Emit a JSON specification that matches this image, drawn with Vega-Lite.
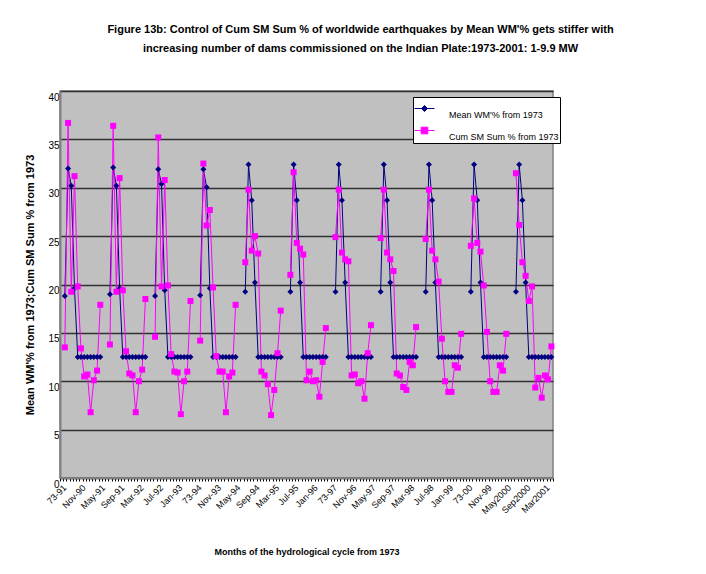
{
  "$schema": "https://vega.github.io/schema/vega-lite/v6.json",
  "width": 493,
  "height": 387,
  "autosize": {"type": "none"},
  "padding": {"left": 60, "top": 91, "right": 153, "bottom": 96},
  "background": "white",
  "title": {
    "text": [
      "Figure 13b: Control of Cum SM Sum % of worldwide earthquakes by Mean WM'% gets stiffer with",
      "increasing number of dams commissioned on the Indian Plate:1973-2001: 1-9.9 MW"
    ],
    "font": "Liberation Sans, sans-serif",
    "fontSize": 11,
    "fontWeight": "bold",
    "color": "black",
    "anchor": "middle",
    "dx": 54,
    "offset": 37,
    "lineHeight": 19
  },
  "data": {
    "values": [
      {"m": "73-91", "wm": null, "sm": null},
      {"m": "Jun-90", "wm": 18.8, "sm": 13.5},
      {"m": "Jul-90", "wm": 32.0, "sm": 36.7},
      {"m": "Aug-90", "wm": 30.2, "sm": 19.25},
      {"m": "Sep-90", "wm": 19.6, "sm": 31.2},
      {"m": "Oct-90", "wm": 12.5, "sm": 19.8},
      {"m": "Nov-90", "wm": 12.5, "sm": 13.4},
      {"m": "Dec-90", "wm": 12.5, "sm": 10.5},
      {"m": "Jan-91", "wm": 12.5, "sm": 10.7},
      {"m": "Feb-91", "wm": 12.5, "sm": 6.8},
      {"m": "Mar-91", "wm": 12.5, "sm": 10.1},
      {"m": "Apr-91", "wm": 12.5, "sm": 11.1},
      {"m": "May-91", "wm": 12.5, "sm": 17.9},
      {"m": "e91", "wm": null, "sm": null},
      {"m": "73-92", "wm": null, "sm": null},
      {"m": "Jun-91", "wm": 19.0, "sm": 13.8},
      {"m": "Jul-91", "wm": 32.1, "sm": 36.4},
      {"m": "Aug-91", "wm": 30.2, "sm": 19.25},
      {"m": "Sep-91", "wm": 19.6, "sm": 31.0},
      {"m": "Oct-91", "wm": 12.5, "sm": 19.4},
      {"m": "Nov-91", "wm": 12.5, "sm": 13.1},
      {"m": "Dec-91", "wm": 12.5, "sm": 10.8},
      {"m": "Jan-92", "wm": 12.5, "sm": 10.6},
      {"m": "Feb-92", "wm": 12.5, "sm": 6.8},
      {"m": "Mar-92", "wm": 12.5, "sm": 10.0},
      {"m": "Apr-92", "wm": 12.5, "sm": 11.2},
      {"m": "May-92", "wm": 12.5, "sm": 18.5},
      {"m": "e92", "wm": null, "sm": null},
      {"m": "73-93", "wm": null, "sm": null},
      {"m": "Jun-92", "wm": 18.8, "sm": 14.6},
      {"m": "Jul-92", "wm": 31.9, "sm": 35.2},
      {"m": "Aug-92", "wm": 30.4, "sm": 19.8},
      {"m": "Sep-92", "wm": 19.4, "sm": 30.8},
      {"m": "Oct-92", "wm": 12.5, "sm": 19.9},
      {"m": "Nov-92", "wm": 12.5, "sm": 12.8},
      {"m": "Dec-92", "wm": 12.5, "sm": 11.0},
      {"m": "Jan-93", "wm": 12.5, "sm": 10.9},
      {"m": "Feb-93", "wm": 12.5, "sm": 6.6},
      {"m": "Mar-93", "wm": 12.5, "sm": 10.0},
      {"m": "Apr-93", "wm": 12.5, "sm": 11.0},
      {"m": "May-93", "wm": 12.5, "sm": 18.3},
      {"m": "e93", "wm": null, "sm": null},
      {"m": "73-94", "wm": null, "sm": null},
      {"m": "Jun-93", "wm": 18.9, "sm": 14.2},
      {"m": "Jul-93", "wm": 31.9, "sm": 32.5},
      {"m": "Aug-93", "wm": 30.05, "sm": 26.1},
      {"m": "Sep-93", "wm": 19.6, "sm": 27.7},
      {"m": "Oct-93", "wm": 12.5, "sm": 19.7},
      {"m": "Nov-93", "wm": 12.5, "sm": 12.6},
      {"m": "Dec-93", "wm": 12.5, "sm": 11.0},
      {"m": "Jan-94", "wm": 12.5, "sm": 11.0},
      {"m": "Feb-94", "wm": 12.5, "sm": 6.8},
      {"m": "Mar-94", "wm": 12.5, "sm": 10.5},
      {"m": "Apr-94", "wm": 12.5, "sm": 10.9},
      {"m": "May-94", "wm": 12.5, "sm": 17.9},
      {"m": "e94", "wm": null, "sm": null},
      {"m": "73-95", "wm": null, "sm": null},
      {"m": "Jun-94", "wm": 19.25, "sm": 22.3},
      {"m": "Jul-94", "wm": 32.4, "sm": 29.8},
      {"m": "Aug-94", "wm": 28.7, "sm": 23.5},
      {"m": "Sep-94", "wm": 20.2, "sm": 25.0},
      {"m": "Oct-94", "wm": 12.5, "sm": 23.2},
      {"m": "Nov-94", "wm": 12.5, "sm": 11.0},
      {"m": "Dec-94", "wm": 12.5, "sm": 10.6},
      {"m": "Jan-95", "wm": 12.5, "sm": 9.7},
      {"m": "Feb-95", "wm": 12.5, "sm": 6.5},
      {"m": "Mar-95", "wm": 12.5, "sm": 9.1},
      {"m": "Apr-95", "wm": 12.5, "sm": 12.9},
      {"m": "May-95", "wm": 12.5, "sm": 17.3},
      {"m": "e95", "wm": null, "sm": null},
      {"m": "73-96", "wm": null, "sm": null},
      {"m": "Jun-95", "wm": 19.25, "sm": 21.0},
      {"m": "Jul-95", "wm": 32.4, "sm": 31.6},
      {"m": "Aug-95", "wm": 28.7, "sm": 24.3},
      {"m": "Sep-95", "wm": 20.2, "sm": 23.7},
      {"m": "Oct-95", "wm": 12.5, "sm": 23.1},
      {"m": "Nov-95", "wm": 12.5, "sm": 10.1},
      {"m": "Dec-95", "wm": 12.5, "sm": 11.0},
      {"m": "Jan-96", "wm": 12.5, "sm": 10.0},
      {"m": "Feb-96", "wm": 12.5, "sm": 10.1},
      {"m": "Mar-96", "wm": 12.5, "sm": 8.4},
      {"m": "Apr-96", "wm": 12.5, "sm": 12.0},
      {"m": "May-96", "wm": 12.5, "sm": 15.5},
      {"m": "e96", "wm": null, "sm": null},
      {"m": "73-97", "wm": null, "sm": null},
      {"m": "Jun-96", "wm": 19.25, "sm": 24.9},
      {"m": "Jul-96", "wm": 32.4, "sm": 29.8},
      {"m": "Aug-96", "wm": 28.7, "sm": 23.3},
      {"m": "Sep-96", "wm": 20.2, "sm": 22.6},
      {"m": "Oct-96", "wm": 12.5, "sm": 22.4},
      {"m": "Nov-96", "wm": 12.5, "sm": 10.6},
      {"m": "Dec-96", "wm": 12.5, "sm": 10.7},
      {"m": "Jan-97", "wm": 12.5, "sm": 9.8},
      {"m": "Feb-97", "wm": 12.5, "sm": 10.0},
      {"m": "Mar-97", "wm": 12.5, "sm": 8.2},
      {"m": "Apr-97", "wm": 12.5, "sm": 12.9},
      {"m": "May-97", "wm": 12.5, "sm": 15.8},
      {"m": "e97", "wm": null, "sm": null},
      {"m": "73-98", "wm": null, "sm": null},
      {"m": "Jun-97", "wm": 19.25, "sm": 24.8},
      {"m": "Jul-97", "wm": 32.4, "sm": 29.8},
      {"m": "Aug-97", "wm": 28.7, "sm": 23.3},
      {"m": "Sep-97", "wm": 20.2, "sm": 22.6},
      {"m": "Oct-97", "wm": 12.5, "sm": 21.4},
      {"m": "Nov-97", "wm": 12.5, "sm": 10.8},
      {"m": "Dec-97", "wm": 12.5, "sm": 10.6},
      {"m": "Jan-98", "wm": 12.5, "sm": 9.4},
      {"m": "Feb-98", "wm": 12.5, "sm": 9.1},
      {"m": "Mar-98", "wm": 12.5, "sm": 12.0},
      {"m": "Apr-98", "wm": 12.5, "sm": 11.65},
      {"m": "May-98", "wm": 12.5, "sm": 15.6},
      {"m": "e98", "wm": null, "sm": null},
      {"m": "73-99", "wm": null, "sm": null},
      {"m": "Jun-98", "wm": 19.25, "sm": 24.7},
      {"m": "Jul-98", "wm": 32.4, "sm": 29.8},
      {"m": "Aug-98", "wm": 28.7, "sm": 23.5},
      {"m": "Sep-98", "wm": 20.2, "sm": 22.6},
      {"m": "Oct-98", "wm": 12.5, "sm": 20.3},
      {"m": "Nov-98", "wm": 12.5, "sm": 14.4},
      {"m": "Dec-98", "wm": 12.5, "sm": 10.0},
      {"m": "Jan-99", "wm": 12.5, "sm": 8.9},
      {"m": "Feb-99", "wm": 12.5, "sm": 8.9},
      {"m": "Mar-99", "wm": 12.5, "sm": 11.65},
      {"m": "Apr-99", "wm": 12.5, "sm": 11.4},
      {"m": "May-99", "wm": 12.5, "sm": 14.9},
      {"m": "e99", "wm": null, "sm": null},
      {"m": "73-00", "wm": null, "sm": null},
      {"m": "Jun-99", "wm": 19.25, "sm": 24.0},
      {"m": "Jul-99", "wm": 32.4, "sm": 28.9},
      {"m": "Aug-99", "wm": 28.7, "sm": 24.3},
      {"m": "Sep-99", "wm": 20.2, "sm": 23.4},
      {"m": "Oct-99", "wm": 12.5, "sm": 19.9},
      {"m": "Nov-99", "wm": 12.5, "sm": 15.1},
      {"m": "Dec-99", "wm": 12.5, "sm": 10.0},
      {"m": "Jan2000", "wm": 12.5, "sm": 8.9},
      {"m": "Feb2000", "wm": 12.5, "sm": 8.9},
      {"m": "Mar2000", "wm": 12.5, "sm": 11.65},
      {"m": "Apr2000", "wm": 12.5, "sm": 11.1},
      {"m": "May2000", "wm": 12.5, "sm": 14.9},
      {"m": "e00", "wm": null, "sm": null},
      {"m": "73-01", "wm": null, "sm": null},
      {"m": "Jun2000", "wm": 19.25, "sm": 31.5},
      {"m": "Jul2000", "wm": 32.4, "sm": 26.15},
      {"m": "Aug2000", "wm": 28.7, "sm": 22.3},
      {"m": "Sep2000", "wm": 20.2, "sm": 20.9},
      {"m": "Oct2000", "wm": 12.5, "sm": 18.3},
      {"m": "Nov2000", "wm": 12.5, "sm": 19.8},
      {"m": "Dec2000", "wm": 12.5, "sm": 9.35},
      {"m": "Jan2001", "wm": 12.5, "sm": 10.35},
      {"m": "Feb2001", "wm": 12.5, "sm": 8.3},
      {"m": "Mar2001", "wm": 12.5, "sm": 10.6},
      {"m": "Apr2001", "wm": 12.5, "sm": 10.2},
      {"m": "May2001", "wm": 12.5, "sm": 13.6}
    ]
  },
  "transform": [{"fold": ["wm", "sm"], "as": ["s", "v"]}],
  "encoding": {
    "x": {
      "field": "m",
      "type": "ordinal",
      "sort": null,
      "scale": {"type": "band", "paddingInner": 0, "paddingOuter": 0},
      "axis": {
        "title": "Months of the hydrological cycle from 1973",
        "titleFont": "Liberation Sans, sans-serif",
        "titleFontSize": 9,
        "titleFontWeight": "bold",
        "titleColor": "black",
        "titleY": 73,
        "titleBaseline": "middle",
        "labelExpr": "indexof(['73-91','Nov-90','May-91','Sep-91','Mar-92','Jul-92','Jan-93','73-94','Nov-93','May-94','Sep-94','Mar-95','Jul-95','Jan-96','73-97','Nov-96','May-97','Sep-97','Mar-98','Jul-98','Jan-99','73-00','Nov-99','May2000','Sep2000','Mar2001'], datum.value) >= 0 ? datum.value : ''",
        "labelAngle": -45,
        "labelOverlap": false,
        "labelFont": "Liberation Sans, sans-serif",
        "labelFontSize": 9,
        "labelColor": "black",
        "labelPadding": 2,
        "tickBand": "extent",
        "tickColor": "black",
        "tickSize": 3,
        "domainColor": "#808080",
        "domainWidth": 1.5,
        "grid": false
      }
    },
    "y": {
      "field": "v",
      "type": "quantitative",
      "scale": {"domain": [0, 40], "nice": false},
      "axis": {
        "title": "Mean WM'% from 1973;Cum SM Sum % from 1973",
        "titleFont": "Liberation Sans, sans-serif",
        "titleFontSize": 11,
        "titleFontWeight": "bold",
        "titleColor": "black",
        "titleX": -30,
        "titleBaseline": "middle",
        "values": [0, 5, 10, 15, 20, 25, 30, 35, 40],
        "labelFont": "Liberation Sans, sans-serif",
        "labelFontSize": 10,
        "labelColor": "black",
        "labelOffset": 6,
        "labelPadding": 1,
        "ticks": false,
        "domainColor": "#808080",
        "domainWidth": 2,
        "grid": true,
        "gridColor": "#303030",
        "gridWidth": 1.5
      }
    },
    "color": {
      "field": "s",
      "type": "nominal",
      "scale": {"domain": ["wm", "sm"], "range": ["#000080", "#FF00FF"]},
      "legend": {
        "orient": "none",
        "legendX": 353,
        "legendY": 6,
        "title": null,
        "fillColor": "white",
        "strokeColor": "black",
        "padding": 1,
        "labelFont": "Liberation Sans, sans-serif",
        "labelFontSize": 9,
        "labelColor": "black",
        "labelOffset": 14,
        "rowPadding": -2,
        "symbolSize": 400,
        "symbolStrokeWidth": 1,
        "labelExpr": "datum.value == 'wm' ? \"Mean WM'% from 1973\" : 'Cum SM Sum % from 1973'",
        "encode": {
          "symbols": {
            "update": {
              "shape": {"signal": "datum.value == 'wm' ? 'M-1,0H1M0,-0.3L0.3,0L0,0.3L-0.3,0Z' : 'M-1,0H1M-0.33,-0.33H0.33V0.33H-0.33Z'"},
              "fill": {"signal": "datum.value == 'wm' ? '#000080' : '#FF00FF'"},
              "stroke": {"signal": "datum.value == 'wm' ? '#000080' : '#FF66FF'"},
              "size": {"value": 400},
              "opacity": {"value": 1}
            }
          },
          "labels": {"update": {"dy": {"value": 6}}}
        }
      }
    }
  },
  "layer": [
    {"mark": {"type": "line", "strokeWidth": 1}},
    {
      "transform": [{"filter": "datum.s == 'wm'"}],
      "mark": {"type": "point", "shape": "diamond", "filled": true, "size": 36, "opacity": 1}
    },
    {
      "transform": [{"filter": "datum.s == 'sm'"}],
      "mark": {"type": "point", "shape": "square", "filled": true, "size": 36, "opacity": 1}
    }
  ],
  "config": {
    "view": {"fill": "#C0C0C0", "stroke": "#808080", "strokeWidth": 1.5}
  }
}
